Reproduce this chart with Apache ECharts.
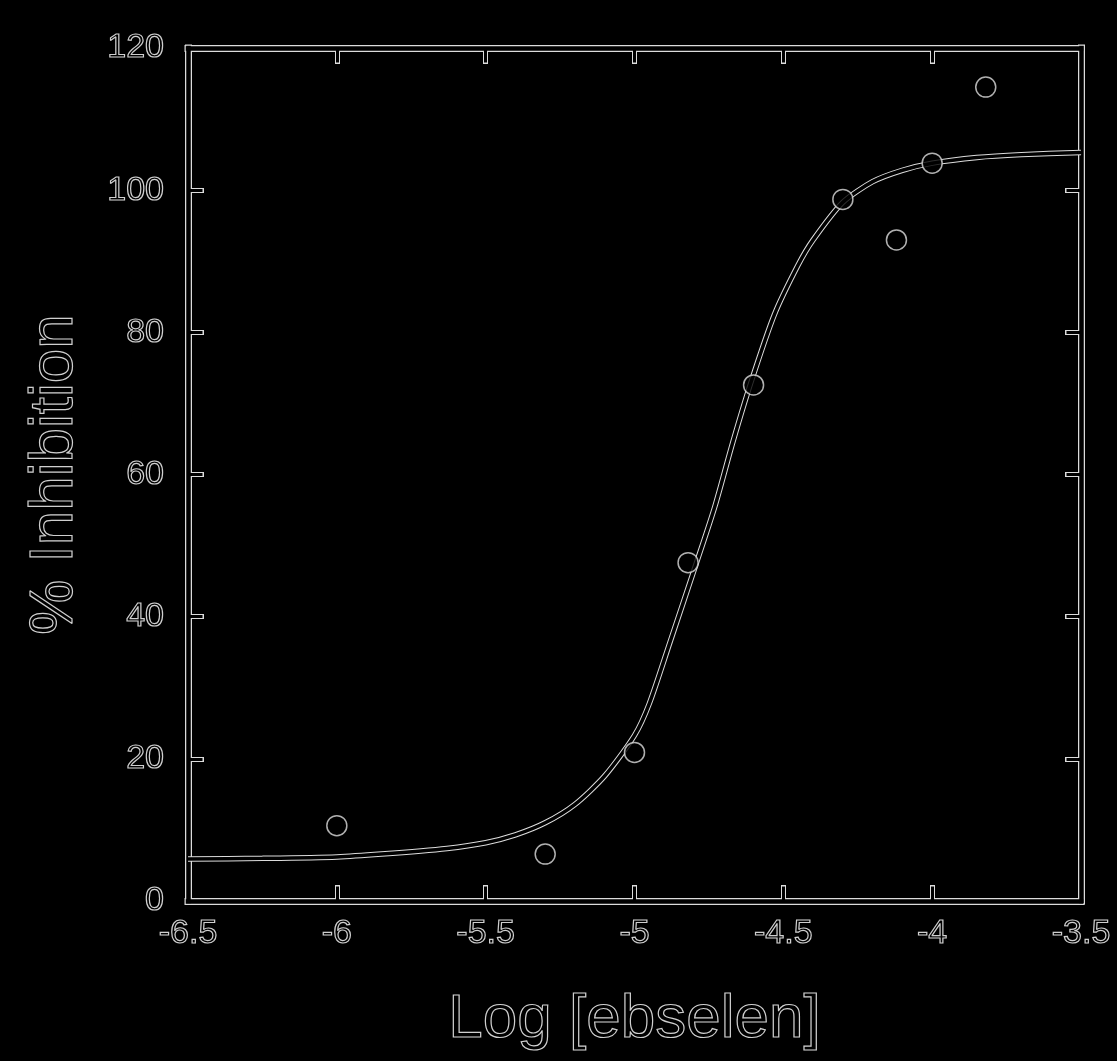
<!DOCTYPE html>
<html>
<head>
<meta charset="utf-8">
<script src="https://cdn.jsdelivr.net/npm/echarts@6/dist/echarts.min.js"></script>
<style>
  html, body { margin: 0; padding: 0; background: #000; }
  #chart { width: 1117px; height: 1061px; }
</style>
</head>
<body>
<div id="chart"></div>
<script>
// ---- data ----
const xMin = -6.5, xMax = -3.5, xStep = 0.5;
const yMin = 0, yMax = 120, yStep = 20;

const pointX = [-6, -5.3, -5, -4.82, -4.6, -4.3, -4.12, -4, -3.82];
const pointY = [10.6, 6.6, 20.9, 47.6, 72.6, 98.7, 93.0, 103.8, 114.5];

const curveX = [-6.5, -6.25, -6.0, -5.85, -5.63, -5.5, -5.4, -5.3, -5.2, -5.1, -5.0, -4.95, -4.88, -4.79, -4.73, -4.67, -4.61, -4.53, -4.45, -4.4, -4.3, -4.2, -4.1, -4.0, -3.85, -3.7, -3.5];
const curveY = [5.9, 6.0, 6.2, 6.6, 7.4, 8.2, 9.3, 11.0, 13.6, 17.6, 23.3, 27.8, 36.5, 47.8, 55.5, 64.5, 72.8, 82.5, 89.5, 93.0, 98.3, 101.2, 102.8, 103.8, 104.6, 105.0, 105.3];

const xTitle = 'Log [ebselen]';
const yTitle = '% Inhibition';

// ---- styling ----
const EDGE = '#dcdcdc';
const FONT = '"Liberation Sans", Arial, sans-serif';
const outlineText = (size) => ({
  color: 'rgba(0,0,0,0)',
  textBorderColor: '#cfcfcf',
  textBorderWidth: 1.2,
  fontSize: size,
  fontFamily: FONT
});

function axisLayer(dim, position, layer, withLabels) {
  const white = layer === 'white';
  const ax = {
    type: 'value',
    gridIndex: 0,
    position: position,
    min: dim === 'x' ? xMin : yMin,
    max: dim === 'x' ? xMax : yMax,
    interval: dim === 'x' ? xStep : yStep,
    z: white ? 1 : 2,
    splitLine: { show: false },
    axisLine: { show: true, onZero: false, lineStyle: { color: white ? EDGE : '#000', width: white ? 7 : 4.5, cap: 'square' } },
    axisTick: { show: true, inside: true, length: white ? 16 : 14.5, lineStyle: { color: white ? EDGE : '#000', width: white ? 5 : 3 } },
    axisLabel: { show: false }
  };
  if (withLabels) {
    ax.axisLabel = Object.assign({ show: true, margin: dim === 'x' ? 16 : 24 }, outlineText(34));
    ax.name = dim === 'x' ? xTitle : yTitle;
    ax.nameLocation = 'middle';
    ax.nameGap = dim === 'x' ? 88 : 102;
    ax.nameTextStyle = outlineText(62);
  }
  return ax;
}

const chart = echarts.init(document.getElementById('chart'), null, { renderer: 'canvas' });
chart.setOption({
  backgroundColor: '#000',
  animation: false,
  grid: { left: 188, right: 36, top: 48, bottom: 160 },
  xAxis: [
    axisLayer('x', 'bottom', 'white', true),
    axisLayer('x', 'bottom', 'black', false),
    axisLayer('x', 'top', 'white', false),
    axisLayer('x', 'top', 'black', false)
  ],
  yAxis: [
    axisLayer('y', 'left', 'white', true),
    axisLayer('y', 'left', 'black', false),
    axisLayer('y', 'right', 'white', false),
    axisLayer('y', 'right', 'black', false)
  ],
  series: [
    {
      type: 'line', xAxisIndex: 0, yAxisIndex: 0, z: 3,
      data: curveX.map((x, i) => [x, curveY[i]]),
      smooth: 0.25, showSymbol: false, symbol: 'none',
      lineStyle: { color: EDGE, width: 5.5 }
    },
    {
      type: 'line', xAxisIndex: 0, yAxisIndex: 0, z: 4,
      data: curveX.map((x, i) => [x, curveY[i]]),
      smooth: 0.25, showSymbol: false, symbol: 'none',
      lineStyle: { color: '#000', width: 3.5 }
    },
    {
      type: 'scatter', xAxisIndex: 0, yAxisIndex: 0, z: 5,
      data: pointX.map((x, i) => [x, pointY[i]]),
      symbol: 'circle', symbolSize: 20,
      itemStyle: { color: '#000', borderColor: EDGE, borderWidth: 1.5 }
    }
  ]
});
</script>
</body>
</html>
